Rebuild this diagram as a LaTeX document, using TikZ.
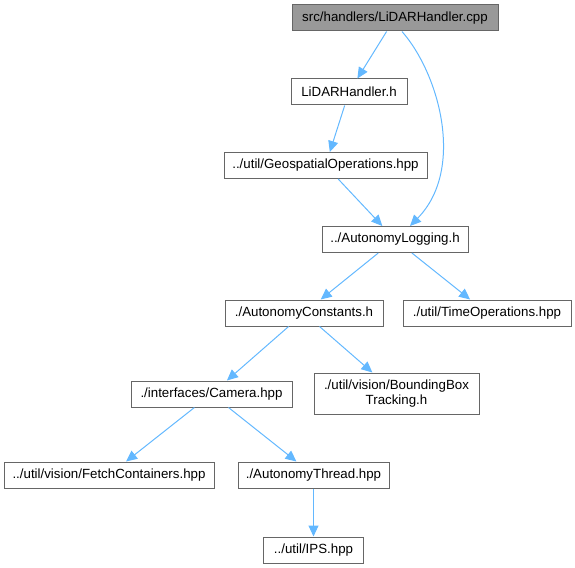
\documentclass[tikz,border=0pt]{standalone}
\usepackage{fontspec}
\setmainfont{Liberation Sans}
\usetikzlibrary{arrows.meta}
\definecolor{edgeblue}{HTML}{63B8FF}
\definecolor{boxline}{HTML}{666666}
\definecolor{rootfill}{HTML}{999999}
\tikzset{
  filebox/.style={draw=boxline, line width=1pt, fill=white, inner sep=0pt, minimum height=26pt,
    font=\fontsize{13.3}{15.5}\selectfont, align=center},
  rootbox/.style={filebox, fill=rootfill},
  dep/.style={draw=edgeblue, line width=1pt, -{Triangle[length=11pt,width=10pt]}}
}
\begin{document}
\begin{tikzpicture}[x=1pt,y=-1pt]
\useasboundingbox (0,0) rectangle (575,567);
\node[rootbox, minimum width=206pt] (root) at (395,18) {src/handlers/LiDARHandler.cpp};
\node[filebox, minimum width=116pt] (lidar) at (349,92) {LiDARHandler.h};
\node[filebox, minimum width=203pt] (geo) at (325.5,165.5) {../util/GeospatialOperations.hpp};
\node[filebox, minimum width=146pt] (log) at (395,239.5) {../AutonomyLogging.h};
\node[filebox, minimum width=158pt] (const) at (304,313) {./AutonomyConstants.h};
\node[filebox, minimum width=168pt] (time) at (487,313) {./util/TimeOperations.hpp};
\node[filebox, minimum width=161pt] (cam) at (211.5,394) {./interfaces/Camera.hpp};
\node[filebox, minimum width=165pt, minimum height=41pt] (bbox) at (396.5,393.5) {./util/vision/BoundingBox\\Tracking.h};
\node[filebox, minimum width=210pt] (fetch) at (109,475) {../util/vision/FetchContainers.hpp};
\node[filebox, minimum width=151pt] (thread) at (313.5,475) {./AutonomyThread.hpp};
\node[filebox, minimum width=100pt] (ips) at (313.5,550) {../util/IPS.hpp};
\draw[dep] (root) -- (lidar);
\draw[dep] ([xshift=7pt]root.south) .. controls (440,75) and (465,170) .. ([xshift=15pt]log.north);
\draw[dep] (lidar) -- (geo);
\draw[dep] (geo) -- (log);
\draw[dep] (log) -- (const);
\draw[dep] (log) -- (time);
\draw[dep] (const) -- (cam);
\draw[dep] (const) -- (bbox);
\draw[dep] (cam) -- (fetch);
\draw[dep] (cam) -- (thread);
\draw[dep] (thread) -- (ips);
\end{tikzpicture}
\end{document}
